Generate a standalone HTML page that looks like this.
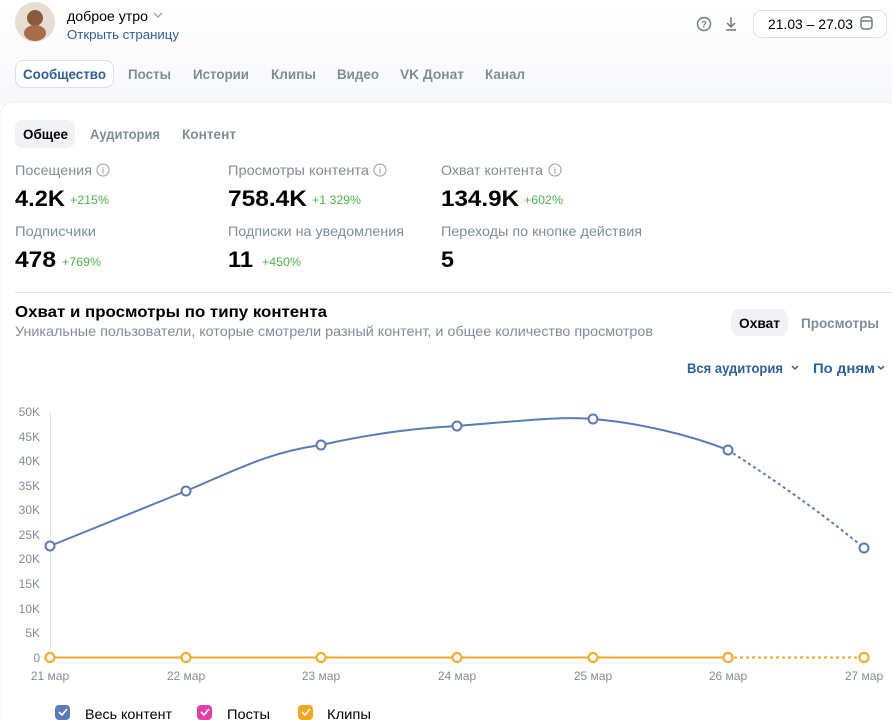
<!DOCTYPE html>
<html><head><meta charset="utf-8"><style>
html,body{margin:0;padding:0;background:#fff;width:892px;height:720px;overflow:hidden}
svg{display:block;font-family:"Liberation Sans",sans-serif}
</style></head><body>
<svg width="892" height="720" viewBox="0 0 892 720">
<defs><linearGradient id="g" x1="0" y1="0" x2="0" y2="1"><stop offset="0" stop-color="#fff"/><stop offset="1" stop-color="#f7f8fa"/></linearGradient></defs>
<rect width="892" height="105" fill="url(#g)"/>
<rect x="0" y="102" width="900" height="630" rx="14" fill="#fff" stroke="#eeeff1"/>
<circle cx="35" cy="22" r="20" fill="#e8ddd3"/>
<circle cx="35" cy="18" r="8" fill="#8a5a3c"/>
<ellipse cx="35" cy="33" rx="11" ry="8" fill="#a86b4b"/>
<g lengthAdjust="spacingAndGlyphs">
<text x="67" y="21" font-size="14" fill="#000" textLength="81" lengthAdjust="spacingAndGlyphs">доброе утро</text>
<text x="67" y="39" font-size="13" fill="#2d5f99" textLength="112" lengthAdjust="spacingAndGlyphs">Открыть страницу</text>
</g>
<path d="M154 13 l4 4 l4 -4" stroke="#99a2ad" fill="none" stroke-width="1.3"/>
<circle cx="704" cy="24" r="6.5" fill="none" stroke="#6d7885" stroke-width="1.4"/>
<text x="704" y="27.5" font-size="9" text-anchor="middle" fill="#6d7885" font-weight="bold">?</text>
<path d="M731 17 v10 M727 23 l4 4 l4 -4 M726 30 h10" stroke="#6d7885" stroke-width="1.5" fill="none"/>
<rect x="753.5" y="10.5" width="133" height="27" rx="8" fill="#fff" stroke="#dce1e6"/>
<text x="768" y="29" font-size="14" fill="#000" textLength="85" lengthAdjust="spacingAndGlyphs">21.03 – 27.03</text>
<rect x="861" y="17" width="11" height="12" rx="3" fill="none" stroke="#6d7885" stroke-width="1.4"/>
<path d="M861 21 h11" stroke="#6d7885" stroke-width="1.4"/>
<rect x="15.5" y="60.5" width="98" height="27" rx="8" fill="#fff" stroke="#dce1e6"/>
<text x="23" y="79" font-size="14" fill="#2d5f99" font-weight="bold" textLength="83" lengthAdjust="spacingAndGlyphs">Сообщество</text>
<g font-size="14" fill="#818c99" font-weight="bold">
<text x="128" y="79" textLength="43" lengthAdjust="spacingAndGlyphs">Посты</text>
<text x="193" y="79" textLength="56" lengthAdjust="spacingAndGlyphs">Истории</text>
<text x="271" y="79" textLength="45" lengthAdjust="spacingAndGlyphs">Клипы</text>
<text x="337" y="79" textLength="42" lengthAdjust="spacingAndGlyphs">Видео</text>
<text x="400" y="79" textLength="64" lengthAdjust="spacingAndGlyphs">VK Донат</text>
<text x="485" y="79" textLength="40" lengthAdjust="spacingAndGlyphs">Канал</text>
</g>
<rect x="15" y="120" width="60" height="28" rx="8" fill="#f0f2f5"/>
<text x="23" y="139" font-size="14" fill="#000" font-weight="bold" textLength="45" lengthAdjust="spacingAndGlyphs">Общее</text>
<text x="90" y="139" font-size="14" fill="#818c99" font-weight="bold" textLength="70" lengthAdjust="spacingAndGlyphs">Аудитория</text>
<text x="182" y="139" font-size="14" fill="#818c99" font-weight="bold" textLength="54" lengthAdjust="spacingAndGlyphs">Контент</text>
<g font-size="14" fill="#818c99">
<text x="15" y="175" textLength="77" lengthAdjust="spacingAndGlyphs">Посещения</text>
<text x="228" y="175" textLength="141" lengthAdjust="spacingAndGlyphs">Просмотры контента</text>
<text x="441" y="175" textLength="102" lengthAdjust="spacingAndGlyphs">Охват контента</text>
<text x="15" y="236" textLength="81" lengthAdjust="spacingAndGlyphs">Подписчики</text>
<text x="228" y="236" textLength="176" lengthAdjust="spacingAndGlyphs">Подписки на уведомления</text>
<text x="441" y="236" textLength="201" lengthAdjust="spacingAndGlyphs">Переходы по кнопке действия</text>
</g>
<g fill="none" stroke="#99a2ad" stroke-width="1.1">
<circle cx="103" cy="170" r="6"/><circle cx="380" cy="170" r="6"/><circle cx="555" cy="170" r="6"/>
</g>
<g fill="#99a2ad" font-size="8" text-anchor="middle" font-weight="bold"><text x="103" y="173.5">i</text><text x="380" y="173.5">i</text><text x="555" y="173.5">i</text></g>
<g font-size="22" font-weight="bold" fill="#000">
<text x="15" y="206" textLength="50" lengthAdjust="spacingAndGlyphs">4.2K</text>
<text x="228" y="206" textLength="79" lengthAdjust="spacingAndGlyphs">758.4K</text>
<text x="441" y="206" textLength="78" lengthAdjust="spacingAndGlyphs">134.9K</text>
<text x="15" y="267" textLength="41" lengthAdjust="spacingAndGlyphs">478</text>
<text x="228" y="267" textLength="25" lengthAdjust="spacingAndGlyphs">11</text>
<text x="441" y="267" textLength="13" lengthAdjust="spacingAndGlyphs">5</text>
</g>
<g font-size="12" fill="#4bb34b">
<text x="70" y="204" textLength="39" lengthAdjust="spacingAndGlyphs">+215%</text>
<text x="312" y="204" textLength="49" lengthAdjust="spacingAndGlyphs">+1 329%</text>
<text x="524" y="204" textLength="39" lengthAdjust="spacingAndGlyphs">+602%</text>
<text x="62" y="266" textLength="39" lengthAdjust="spacingAndGlyphs">+769%</text>
<text x="262" y="266" textLength="39" lengthAdjust="spacingAndGlyphs">+450%</text>
</g>
<path d="M15 292.5 H892" stroke="#e1e3e6"/>
<text x="15" y="317" font-size="16" font-weight="bold" fill="#000" textLength="312" lengthAdjust="spacingAndGlyphs">Охват и просмотры по типу контента</text>
<text x="15" y="336" font-size="14" fill="#818c99" textLength="638" lengthAdjust="spacingAndGlyphs">Уникальные пользователи, которые смотрели разный контент, и общее количество просмотров</text>
<rect x="731" y="309" width="57" height="27" rx="8" fill="#f0f2f5"/>
<text x="739" y="328" font-size="14" font-weight="bold" fill="#000" textLength="41" lengthAdjust="spacingAndGlyphs">Охват</text>
<text x="801" y="328" font-size="14" font-weight="bold" fill="#818c99" textLength="78" lengthAdjust="spacingAndGlyphs">Просмотры</text>
<text x="687" y="373" font-size="14" font-weight="bold" fill="#2d5f99" textLength="96" lengthAdjust="spacingAndGlyphs">Вся аудитория</text>
<path d="M792 366 l3 3 l3 -3" stroke="#2d5f99" fill="none" stroke-width="1.5"/>
<text x="813" y="373" font-size="14" font-weight="bold" fill="#2d5f99" textLength="62" lengthAdjust="spacingAndGlyphs">По дням</text>
<path d="M878 366 l3 3 l3 -3" stroke="#2d5f99" fill="none" stroke-width="1.5"/>
<path d="M50.5 412 V658" stroke="#e1e3e6"/>
<g font-size="12" fill="#818c99" text-anchor="end">
<text x="40" y="416">50K</text><text x="40" y="441">45K</text><text x="40" y="465">40K</text><text x="40" y="490">35K</text><text x="40" y="514">30K</text><text x="40" y="539">25K</text><text x="40" y="563">20K</text><text x="40" y="588">15K</text><text x="40" y="613">10K</text><text x="40" y="637">5K</text><text x="40" y="662">0</text>
</g>
<g font-size="12" fill="#818c99" text-anchor="middle">
<text x="50" y="680">21 мар</text><text x="186" y="680">22 мар</text><text x="321" y="680">23 мар</text><text x="457" y="680">24 мар</text><text x="593" y="680">25 мар</text><text x="728" y="680">26 мар</text><text x="864" y="680">27 мар</text>
</g>
<path d="M50 546 L186 491 C240 468 270 452 321 445 C380 432 420 428 457 426 C520 421 560 416 593 419 C640 423 690 435 728 450" fill="none" stroke="#5a7bb5" stroke-width="2"/>
<path d="M728 450 C790 490 830 520 864 548" fill="none" stroke="#5a7bb5" stroke-width="2" stroke-dasharray="3 3"/>
<path d="M50 657.5 H728" stroke="#f5a623" stroke-width="2"/>
<path d="M728 657.5 H864" stroke="#f5a623" stroke-width="2" stroke-dasharray="3 3"/>
<g fill="#fff" stroke="#5a7bb5" stroke-width="2">
<circle cx="50" cy="546" r="4.5"/><circle cx="186" cy="491" r="4.5"/><circle cx="321" cy="445" r="4.5"/><circle cx="457" cy="426" r="4.5"/><circle cx="593" cy="419" r="4.5"/><circle cx="728" cy="450" r="4.5"/><circle cx="864" cy="548" r="4.5"/>
</g>
<g fill="#fff" stroke="#f5a623" stroke-width="2">
<circle cx="50" cy="657.5" r="4.5"/><circle cx="186" cy="657.5" r="4.5"/><circle cx="321" cy="657.5" r="4.5"/><circle cx="457" cy="657.5" r="4.5"/><circle cx="593" cy="657.5" r="4.5"/><circle cx="728" cy="657.5" r="4.5"/><circle cx="864" cy="657.5" r="4.5"/>
</g>
<rect x="55" y="705" width="15" height="15" rx="4" fill="#5a7bb5"/>
<rect x="197" y="705" width="15" height="15" rx="4" fill="#e040a8"/>
<rect x="298" y="705" width="15" height="15" rx="4" fill="#f5a623"/>
<g stroke="#fff" stroke-width="1.6" fill="none"><path d="M59 712 l3 3 l5 -6"/><path d="M201 712 l3 3 l5 -6"/><path d="M302 712 l3 3 l5 -6"/></g>
<g font-size="14" fill="#000"><text x="85" y="719" textLength="87" lengthAdjust="spacingAndGlyphs">Весь контент</text><text x="227" y="719" textLength="43" lengthAdjust="spacingAndGlyphs">Посты</text><text x="327" y="719" textLength="44" lengthAdjust="spacingAndGlyphs">Клипы</text></g>
</svg>
</body></html>
